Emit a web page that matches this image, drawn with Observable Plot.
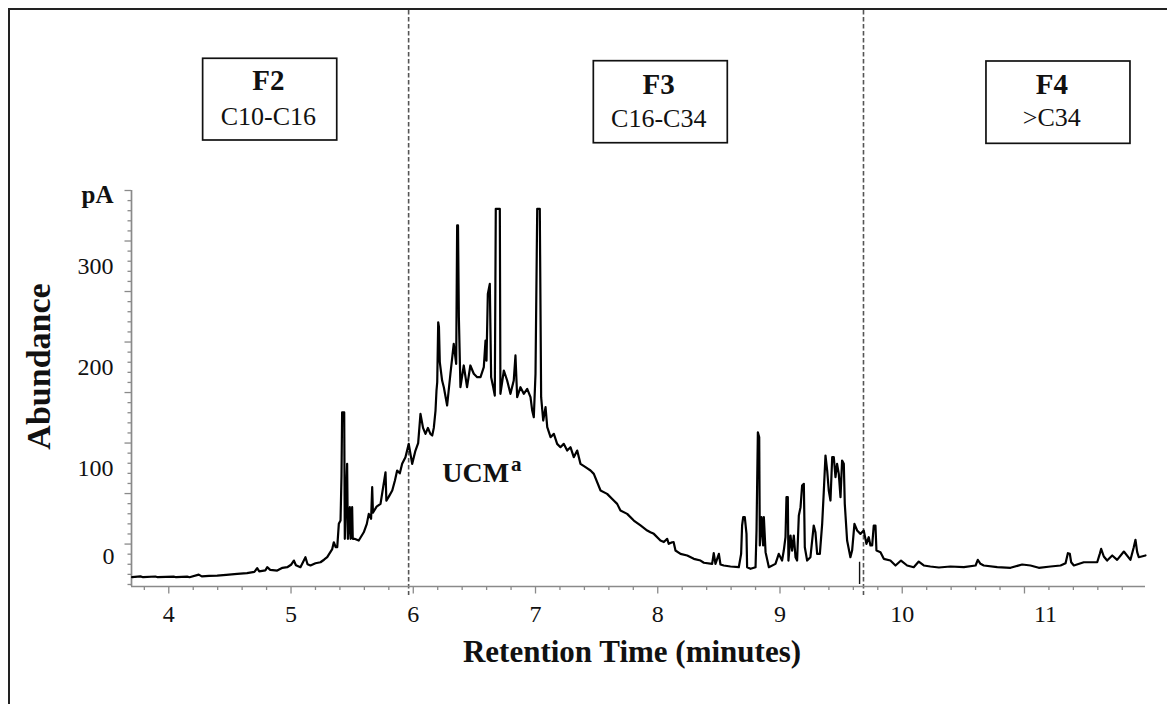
<!DOCTYPE html>
<html>
<head>
<meta charset="utf-8">
<script src="https://cdn.jsdelivr.net/npm/d3@7"></script>
<script src="https://cdn.jsdelivr.net/npm/@observablehq/plot@0.6"></script>
<style>
  html, body { margin: 0; padding: 0; background: #fff; }
  #wrap { position: relative; width: 1167px; height: 704px; overflow: hidden; background: #fff; }
  #frame { position: absolute; left: 8px; top: 8px; width: 1300px; height: 900px;
           border-left: 2.5px solid #222; border-top: 2.5px solid #222; pointer-events: none; }
  #chart { position: absolute; left: 0; top: 0; }
</style>
</head>
<body>
<div id="wrap"><div id="frame"></div><div id="chart"></div></div>
<script>
// ---- Data: [retention time (min), abundance (pA)] ----
const trace = [
[3.700,-7.8],[3.768,-7.0],[3.790,-7.8],[3.890,-7.1],[3.910,-7.8],[4.040,-7.2],[4.060,-7.8],[4.150,-7.2],[4.170,-7.8],
[4.245,-5.2],[4.270,-7.0],[4.330,-6.5],[4.396,-6.2],[4.470,-5.5],[4.560,-4.5],[4.640,-3.8],[4.700,-2.5],[4.723,1.1],
[4.740,-2.0],[4.790,-1.0],[4.805,2.1],[4.830,-0.5],[4.887,-1.2],[4.930,1.5],[4.969,2.1],[5.000,4.5],[5.023,8.7],
[5.040,4.0],[5.077,2.1],[5.118,12.0],[5.135,5.0],[5.159,3.8],[5.200,6.0],[5.241,7.0],[5.270,9.5],[5.296,12.0],
[5.337,20.0],[5.350,26.8],[5.365,22.0],[5.378,21.9],[5.391,45.0],[5.405,48.3],[5.413,92.9],[5.418,155.5],[5.435,155.5],
[5.440,30.2],[5.459,104.4],[5.465,30.2],[5.481,61.5],[5.487,30.2],[5.500,61.5],[5.505,30.2],[5.519,30.2],[5.554,28.5],
[5.595,36.7],[5.620,45.0],[5.636,54.9],[5.655,50.0],[5.664,81.3],[5.670,56.0],[5.700,62.0],[5.732,64.8],[5.773,96.1],
[5.780,68.0],[5.800,72.0],[5.828,78.0],[5.850,88.0],[5.868,97.8],[5.890,95.0],[5.909,104.4],[5.936,111.0],[5.963,124.2],
[5.991,104.4],[6.018,117.6],[6.040,125.0],[6.059,153.9],[6.080,140.0],[6.100,134.1],[6.120,140.0],[6.140,134.0],
[6.155,132.5],[6.168,140.0],[6.182,157.2],[6.190,177.0],[6.196,185.2],[6.204,244.6],[6.210,240.0],[6.217,205.0],
[6.236,186.9],[6.250,180.3],[6.277,162.2],[6.304,193.6],[6.331,223.2],[6.351,203.4],[6.359,340.4],[6.366,340.4],
[6.373,249.6],[6.386,180.3],[6.413,201.8],[6.440,180.3],[6.467,201.8],[6.495,193.6],[6.523,190.2],[6.550,190.2],
[6.577,200.1],[6.591,226.5],[6.599,206.6],[6.610,272.7],[6.626,282.6],[6.637,190.2],[6.654,180.3],[6.667,172.0],
[6.675,356.9],[6.708,356.9],[6.713,173.7],[6.741,196.8],[6.768,186.9],[6.795,173.7],[6.822,186.9],[6.836,211.7],
[6.850,170.4],[6.877,180.3],[6.904,173.7],[6.932,178.6],[6.959,170.4],[6.973,157.2],[6.986,150.6],[7.000,193.6],
[7.014,356.9],[7.035,356.9],[7.046,170.4],[7.063,147.3],[7.082,160.5],[7.096,140.7],[7.123,130.8],[7.150,134.1],
[7.177,124.2],[7.204,120.9],[7.231,124.2],[7.259,117.6],[7.286,120.9],[7.313,111.0],[7.341,117.6],[7.368,104.4],
[7.409,101.1],[7.450,97.8],[7.477,94.5],[7.532,78.0],[7.586,74.7],[7.640,68.1],[7.668,64.8],[7.695,58.2],[7.750,54.9],
[7.804,48.3],[7.859,43.4],[7.914,38.4],[7.940,36.7],[7.968,35.1],[8.022,28.5],[8.050,27.0],[8.077,30.2],[8.090,25.2],
[8.118,26.8],[8.130,26.9],[8.145,18.6],[8.186,15.3],[8.241,13.7],[8.295,10.4],[8.350,8.7],[8.377,6.5],[8.445,5.4],
[8.458,16.0],[8.472,5.4],[8.500,15.3],[8.513,4.8],[8.540,3.8],[8.595,2.8],[8.663,2.1],[8.682,15.3],[8.690,43.4],
[8.699,51.6],[8.712,51.6],[8.726,35.1],[8.731,2.1],[8.759,0.5],[8.800,2.1],[8.808,38.4],[8.819,135.7],[8.830,130.8],
[8.835,23.6],[8.849,51.6],[8.862,23.6],[8.868,51.6],[8.882,17.0],[8.909,2.1],[8.963,5.4],[8.990,15.3],[9.017,8.7],
[9.031,18.6],[9.045,31.8],[9.053,71.4],[9.064,71.4],[9.069,8.7],[9.086,33.5],[9.099,18.6],[9.113,33.5],[9.127,12.0],
[9.140,8.7],[9.154,53.3],[9.168,61.5],[9.181,83.0],[9.195,84.6],[9.203,21.9],[9.222,8.7],[9.249,12.0],[9.276,43.4],
[9.290,36.7],[9.304,15.3],[9.326,15.3],[9.345,45.0],[9.358,76.3],[9.372,112.7],[9.386,97.8],[9.399,78.0],[9.413,68.1],
[9.427,111.0],[9.440,111.0],[9.454,91.2],[9.467,104.4],[9.481,94.5],[9.495,71.4],[9.508,107.7],[9.522,104.4],
[9.530,64.8],[9.549,28.5],[9.576,12.0],[9.590,18.6],[9.609,45.0],[9.631,38.4],[9.658,35.1],[9.685,38.4],[9.707,25.2],
[9.726,31.8],[9.740,23.6],[9.754,23.6],[9.767,43.4],[9.781,43.4],[9.789,18.6],[9.822,17.0],[9.849,10.4],[9.903,8.7],
[9.945,3.8],[9.990,8.7],[10.040,3.8],[10.094,2.1],[10.135,7.7],[10.176,3.8],[10.230,2.8],[10.300,1.8],[10.394,2.8],
[10.504,2.1],[10.600,3.8],[10.618,9.4],[10.640,5.5],[10.667,3.8],[10.777,2.1],[10.886,1.5],[10.981,4.8],[11.049,3.8],
[11.117,1.5],[11.213,2.8],[11.295,3.8],[11.336,6.1],[11.355,16.0],[11.371,15.3],[11.382,7.0],[11.404,3.8],[11.485,7.0],
[11.540,7.0],[11.595,7.0],[11.616,15.3],[11.627,20.2],[11.649,12.7],[11.676,8.7],[11.718,13.7],[11.758,9.4],
[11.813,17.6],[11.867,9.4],[11.894,21.9],[11.908,29.2],[11.922,17.0],[11.935,12.0],[11.990,13.7]
];

// ---- Categories / labels ----
const fractionNames = ["F2", "F3", "F4"];
const carbonRanges = ["C10-C16", "C16-C34", ">C34"];
const fractionBoundaries = [5.962, 9.683];   // minutes
const markerTimes = [9.651];                 // small solid marker near the F3/F4 cut
const xTickValues = [4, 5, 6, 7, 8, 9, 10, 11];
const yTickLabels = [300, 200, 100, 0];
const ucmText = "UCM";
const ucmSup = "a";

// ---- Scales / layout (not data) ----
const xDomain = [3.695, 11.99];
const yDomain = [-17, 375];
const boxLayout = [
  {x1: 4.281, x2: 5.378, y1: 424.5, y2: 505.4, cx: 4.815, yTop: 474.3, yBottom: 440.3},
  {x1: 7.477, x2: 8.573, y1: 421.8, y2: 503.0, cx: 8.008, yTop: 471.0, yBottom: 437.7},
  {x1: 10.689, x2: 11.867, y1: 421.2, y2: 502.7, cx: 11.224, yTop: 471.0, yBottom: 438.4}
];
const ucmLayout = {x: 6.237, y: 86.2, supX: 6.80, supY: 97.1};

const serif = "'Liberation Serif','Times New Roman',Times,serif";
const axisGray = "#8a8a8a";
const ink = "#111";

const data = trace.map(([t, v]) => ({t, v}));
const boxes = fractionNames.map((name, i) => ({name, range: carbonRanges[i], ...boxLayout[i]}));
const xMinor = d3.range(38, 120, 2).filter(d => d % 10 !== 0).map(d => d / 10);
const yMajor = d3.range(25, 376, 50);
const yMinor = d3.range(-15, 370, 10).filter(d => (d - 25) % 50 !== 0);

const chart = Plot.plot({
  width: 1167,
  height: 704,
  marginLeft: 131,
  marginRight: 22,
  marginTop: 190,
  marginBottom: 118,
  x: {domain: xDomain},
  y: {domain: yDomain},
  style: {fontFamily: serif, background: "transparent", color: ink, overflow: "visible"},
  marks: [
    // fraction cut-off lines
    Plot.ruleX(fractionBoundaries, {stroke: "#555", strokeWidth: 1.6, strokeDasharray: "4.5,2.5", insetTop: -180, insetBottom: -9}),
    // tick marks
    Plot.axisX({ticks: xMinor, tickSize: 4, tickFormat: () => "", label: null, stroke: axisGray, strokeWidth: 1.3}),
    Plot.axisX({ticks: xTickValues, tickSize: 7.5, tickFormat: () => "", label: null, stroke: axisGray, strokeWidth: 1.3}),
    Plot.axisY({ticks: yMinor, tickSize: 3.5, tickFormat: () => "", label: null, stroke: axisGray, strokeWidth: 1.3}),
    Plot.axisY({ticks: yMajor, tickSize: 6.5, tickFormat: () => "", label: null, stroke: axisGray, strokeWidth: 1.3}),
    // axis lines
    Plot.ruleX([xDomain[0]], {stroke: axisGray, strokeWidth: 1.7}),
    Plot.ruleY([yDomain[0]], {stroke: axisGray, strokeWidth: 1.7}),
    Plot.ruleX(markerTimes, {y1: -15, y2: 7, stroke: ink, strokeWidth: 1.4}),
    // chromatogram
    Plot.line(data, {x: "t", y: "v", stroke: "#000", strokeWidth: 2.2, strokeLinejoin: "round"}),
    // x tick labels
    Plot.text(xTickValues.filter(d => d < 11), {x: d => d, frameAnchor: "bottom", lineAnchor: "top", dy: 18.4, text: d => String(d), fontSize: 24, fill: ink}),
    Plot.text(xTickValues.filter(d => d >= 11), {x: d => d, frameAnchor: "bottom", lineAnchor: "top", dy: 18.4, dx: 21, text: d => String(d), fontSize: 24, fill: ink}),
    // y tick labels
    Plot.text(yTickLabels.filter(d => d > 0), {y: d => d, frameAnchor: "left", textAnchor: "end", dx: -18, text: d => String(d), fontSize: 24, fill: ink}),
    Plot.text(yTickLabels.filter(d => d === 0), {y: d => d, frameAnchor: "left", textAnchor: "end", dx: -17, dy: -13, text: d => String(d), fontSize: 24, fill: ink}),
    // unit & axis titles
    Plot.text(["pA"], {frameAnchor: "top-left", textAnchor: "end", lineAnchor: "middle", dx: -18, dy: 4, text: d => d, fontSize: 25, fontWeight: "bold", fill: ink}),
    Plot.text(["Abundance"], {frameAnchor: "left", textAnchor: "middle", lineAnchor: "middle", rotate: -90, dx: -92, dy: -22, text: d => d, fontSize: 34, fontWeight: "bold", fill: ink}),
    Plot.text(["Retention Time (minutes)"], {frameAnchor: "bottom", textAnchor: "middle", lineAnchor: "bottom", dy: 75.7, dx: -6.5, text: d => d, fontSize: 31, fontWeight: "bold", fill: ink}),
    // fraction boxes
    Plot.rect(boxes, {x1: "x1", x2: "x2", y1: "y1", y2: "y2", fill: "#fff", stroke: ink, strokeWidth: 1.7}),
    Plot.text(boxes, {x: "cx", y: "yTop", text: "name", lineAnchor: "bottom", fontSize: 29, fontWeight: "bold", fill: ink}),
    Plot.text(boxes, {x: "cx", y: "yBottom", text: "range", lineAnchor: "bottom", fontSize: 26, fill: ink}),
    // UCM annotation
    Plot.text([ucmLayout], {x: "x", y: "y", text: () => ucmText, textAnchor: "start", lineAnchor: "bottom", fontSize: 28, fontWeight: "bold", fill: ink}),
    Plot.text([ucmLayout], {x: "supX", y: "supY", text: () => ucmSup, textAnchor: "start", lineAnchor: "bottom", fontSize: 21, fontWeight: "bold", fill: ink})
  ]
});

document.getElementById("chart").appendChild(chart);
</script>
</body>
</html>
